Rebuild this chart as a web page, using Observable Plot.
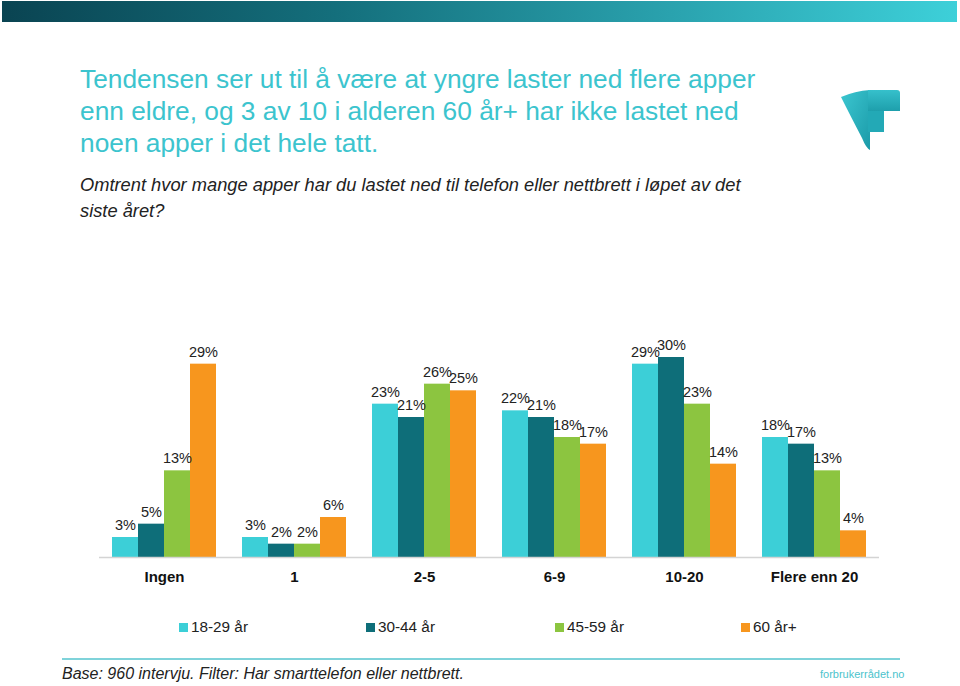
<!DOCTYPE html>
<html>
<head>
<meta charset="utf-8">
<script src="https://cdn.jsdelivr.net/npm/d3@7"></script>
<script src="https://cdn.jsdelivr.net/npm/@observablehq/plot@0.6"></script>
<style>
  html, body { margin: 0; padding: 0; background: #fff; }
  body { width: 960px; height: 686px; position: relative; overflow: hidden; font-family: "Liberation Sans", Arial, sans-serif; }
  .topbar { position: absolute; left: 2px; top: 1px; width: 955px; height: 21px;
    background: linear-gradient(to right, #0a4452 0%, #146f7c 35%, #2aa2ae 70%, #3dd0d9 100%); }
  .title { position: absolute; left: 80px; top: 63px; font-size: 26.3px; line-height: 32px; color: #3cc4ce; margin: 0; font-weight: normal; white-space: nowrap; }
  .subtitle { position: absolute; left: 80px; top: 172px; font-size: 18.3px; line-height: 26px; color: #222; font-style: italic; white-space: nowrap; }
  #chart { position: absolute; left: 0; top: 300px; }
  #legend { position: absolute; left: 0; top: 617px; width: 960px; height: 20px; }
  .item { position: absolute; top: 0; font-size: 15.3px; line-height: 20px; color: #222; white-space: nowrap; }
  .sw { display: inline-block; width: 9px; height: 9px; margin-right: 3px; vertical-align: 0px; }
  .footline { position: absolute; left: 62px; top: 658px; width: 838px; height: 2px; background: #7fd3da; }
  .base { position: absolute; left: 62px; top: 665px; font-size: 16px; font-style: italic; color: #222; white-space: nowrap; }
  .site { position: absolute; left: 820px; top: 668px; font-size: 11px; color: #4cc3cc; white-space: nowrap; }
  .logo { position: absolute; left: 836px; top: 86px; }
</style>
</head>
<body>
<div class="topbar"></div>
<div class="title">Tendensen ser ut til å være at yngre laster ned flere apper<br>enn eldre, og 3 av 10 i alderen 60 år+ har ikke lastet ned<br>noen apper i det hele tatt.</div>
<div class="subtitle">Omtrent hvor mange apper har du lastet ned til telefon eller nettbrett i løpet av det<br>siste året?</div>
<svg class="logo" width="70" height="70" viewBox="836 86 70 70">
  <defs>
    <linearGradient id="lg1" x1="0" y1="0" x2="1" y2="1">
      <stop offset="0" stop-color="#3cc7d1"/>
      <stop offset="1" stop-color="#1b9aa8"/>
    </linearGradient>
    <linearGradient id="lg2" x1="0" y1="0" x2="0" y2="1">
      <stop offset="0" stop-color="#36c0cb"/>
      <stop offset="1" stop-color="#1e9fac"/>
    </linearGradient>
  </defs>
  <path d="M841,97 Q855,91 870,90 L870,150 Q866,148 862,138 Q850,115 841,97 Z" fill="url(#lg1)"/>
  <path d="M868,90 L897,90 Q900,90 900,93 L900,111 L868,111 Z" fill="url(#lg2)"/>
  <path d="M868,111 L884,111 L884,132 L868,132 Z" fill="#23a9b6"/>
</svg>
<div id="chart"></div>
<div id="legend"></div>
<div class="footline"></div>
<div class="base">Base: 960 intervju. Filter: Har smarttelefon eller nettbrett.</div>
<div class="site">forbrukerrådet.no</div>
<script>
const categories = ["Ingen", "1", "2-5", "6-9", "10-20", "Flere enn 20"];
const ages = ["18-29 år", "30-44 år", "45-59 år", "60 år+"];
const v18_29 = [3, 3, 23, 22, 29, 18];
const v30_44 = [5, 2, 21, 21, 30, 17];
const v45_59 = [13, 2, 26, 18, 23, 13];
const v60 = [29, 6, 25, 17, 14, 4];
const colors = ["#3ccfd7", "#0e6e79", "#8cc540", "#f7961e"];
const legendX = [179, 366, 555, 741];

const series = [v18_29, v30_44, v45_59, v60];
const data = categories.flatMap((c, i) => ages.map((a, j) => ({category: c, age: a, value: series[j][i]})));

const chart = Plot.plot({
  width: 960,
  height: 290,
  marginTop: 57,
  marginBottom: 33,
  marginLeft: 99,
  marginRight: 81,
  style: {fontFamily: "'Liberation Sans', Arial, sans-serif", fontSize: "14px", color: "#222", background: "transparent"},
  fx: {domain: categories, paddingInner: 0.2, paddingOuter: 0.1, label: null},
  x: {domain: ages, axis: null, padding: 0},
  y: {domain: [0, 30], axis: null},
  color: {domain: ages, range: colors},
  marks: [
    Plot.barY(data, {fx: "category", x: "age", y: "value", fill: "age"}),
    Plot.text(data, {fx: "category", x: "age", y: "value", text: d => d.value + "%", dy: -12, fontSize: 14.5, fill: "#222"}),
    Plot.ruleY([0], {stroke: "#d4d4d4", strokeWidth: 1.5, insetLeft: -13, insetRight: -13}),
    Plot.axisFx({anchor: "bottom", tickSize: 0, tickPadding: 14, fontSize: 15, fontWeight: "bold", label: null, fill: "#111"})
  ]
});
document.getElementById("chart").appendChild(chart);

const legend = document.getElementById("legend");
ages.forEach((a, i) => {
  const el = document.createElement("div");
  el.className = "item";
  el.style.left = legendX[i] + "px";
  const sw = document.createElement("span");
  sw.className = "sw";
  sw.style.background = colors[i];
  el.appendChild(sw);
  el.appendChild(document.createTextNode(a));
  legend.appendChild(el);
});
</script>
</body>
</html>
